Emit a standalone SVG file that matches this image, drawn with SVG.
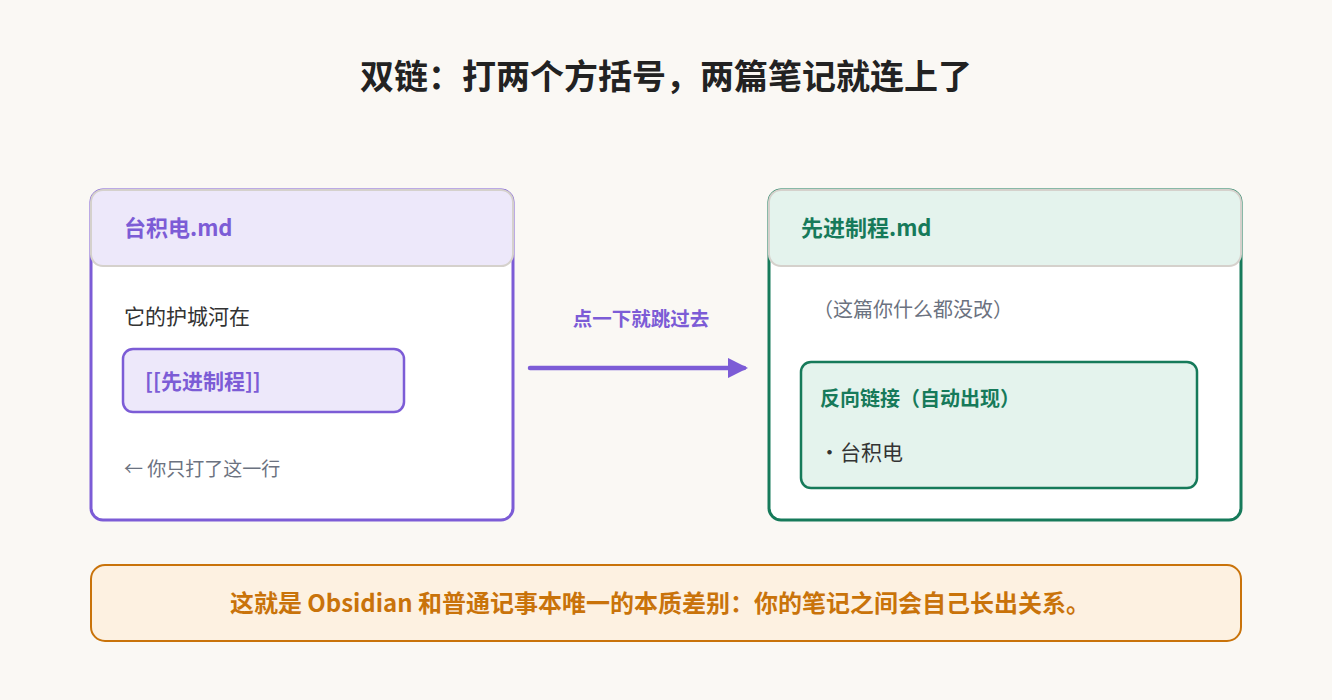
<svg xmlns="http://www.w3.org/2000/svg" width="1332" height="700" viewBox="0 0 1332 700">
<style>
text{font-family:"Noto Sans CJK SC","Noto Sans",sans-serif}
.b{font-weight:700}
</style>
<defs><marker id="ah" viewBox="0 0 10 10" refX="8" refY="5" markerWidth="4.5" markerHeight="4.5" orient="auto"><path d="M0,0L10,5L0,10z" fill="#7c5cd6"/></marker></defs>
<rect width="1332" height="700" fill="#faf8f4"/>
<text x="666" y="89" text-anchor="middle" class="b" font-size="34" fill="#222">双链：打两个方括号，两篇笔记就连上了</text>
<g id="left">
<rect x="91" y="190" width="422" height="330" rx="12" fill="#fff" stroke="#7c5cd6" stroke-width="3"/>
<rect x="91" y="190" width="422" height="76" rx="12" fill="#ede8fa" stroke="#d5d1cc" stroke-width="2"/>
<text x="124" y="236" class="b" font-size="22" fill="#7c5cd6">台积电.md</text>
<text x="124" y="324" font-size="21" fill="#333">它的护城河在</text>
<rect x="123" y="349" width="281" height="63" rx="10" fill="#ede8fa" stroke="#7c5cd6" stroke-width="2.5"/>
<text x="145" y="389" class="b" font-size="21" fill="#7c5cd6">[[先进制程]]</text>
<text x="124" y="476" font-size="19" fill="#6b7280">← 你只打了这一行</text>
</g>
<g id="connectors">
<line x1="530" y1="368" x2="744" y2="368" stroke="#7c5cd6" stroke-width="4.5" stroke-linecap="round" marker-end="url(#ah)"/>
<text x="641" y="326" text-anchor="middle" class="b" font-size="19.5" fill="#7c5cd6">点一下就跳过去</text>
</g>
<g id="right">
<rect x="769" y="190" width="472" height="330" rx="12" fill="#fff" stroke="#167a5a" stroke-width="3"/>
<rect x="769" y="190" width="472" height="76" rx="12" fill="#e4f3ed" stroke="#d5d1cc" stroke-width="2"/>
<text x="801" y="236" class="b" font-size="22" fill="#167a5a">先进制程.md</text>
<text x="813" y="317" font-size="20" fill="#6b7280">（这篇你什么都没改）</text>
<rect x="801" y="362" width="396" height="126" rx="10" fill="#e4f3ed" stroke="#167a5a" stroke-width="2.5"/>
<text x="820" y="406" class="b" font-size="20" fill="#167a5a">反向链接（自动出现）</text>
<text x="819" y="460" font-size="21" fill="#333">·台积电</text>
</g>
<g id="note">
<rect x="91" y="565" width="1150" height="76" rx="14" fill="#fdf1e1" stroke="#c9730a" stroke-width="2"/>
<text x="660" y="612" text-anchor="middle" class="b" font-size="24" fill="#c9730a">这就是 Obsidian 和普通记事本唯一的本质差别：你的笔记之间会自己长出关系。</text>
</g>
</svg>
